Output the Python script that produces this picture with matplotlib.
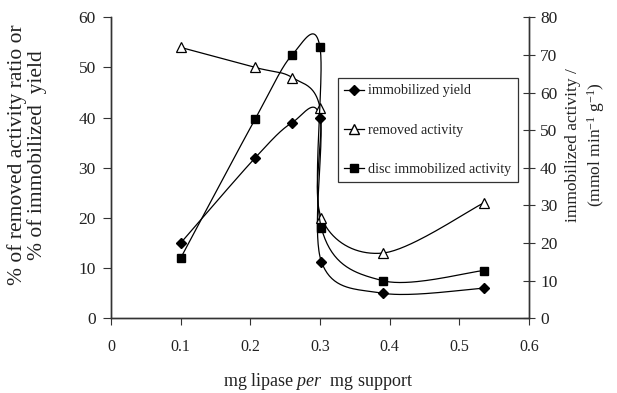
import numpy as np
import matplotlib
matplotlib.use("Agg")
import matplotlib.pyplot as plt
from matplotlib.lines import Line2D

plt.rcParams['font.family'] = ['Liberation Serif', 'DejaVu Serif']
plt.rcParams['mathtext.fontset'] = 'custom'
plt.rcParams['mathtext.rm'] = 'Liberation Serif'
plt.rcParams['mathtext.it'] = 'Liberation Serif:italic'
plt.rcParams['text.color'] = '#222222'
plt.rcParams['xtick.labelcolor'] = '#222222'
plt.rcParams['ytick.labelcolor'] = '#222222'

x = [0.1, 0.207, 0.26, 0.3, 0.302, 0.39, 0.535]
yield_pct = [15, 32, 39, 40, 11.3, 5, 6]
removed_pct = [54, 50, 48, 42, 20, 13, 23]
disc_activity = [16, 53, 70, 72, 24, 10, 12.7]

x_ticks = [0, 0.1, 0.2, 0.3, 0.4, 0.5, 0.6]
left_ticks = [0, 10, 20, 30, 40, 50, 60]
right_ticks = [0, 10, 20, 30, 40, 50, 60, 70, 80]


def smooth(xs, ys, n=40):
    p = np.column_stack([xs, ys]).astype(float)
    m = len(p)
    out = []
    for i in range(m - 1):
        p0 = p[i - 1] if i > 0 else p[i]
        p1 = p[i]
        p2 = p[i + 1]
        p3 = p[i + 2] if i + 2 < m else p[i + 1]
        c1 = p1 + (p2 - p0) / 6.0
        c2 = p2 - (p3 - p1) / 6.0
        t = np.linspace(0, 1, n)[:, None]
        seg = ((1 - t) ** 3) * p1 + 3 * ((1 - t) ** 2) * t * c1 + 3 * (1 - t) * t ** 2 * c2 + t ** 3 * p2
        out.append(seg if i == 0 else seg[1:])
    s = np.vstack(out)
    return s[:, 0], s[:, 1]


W, H = 617, 393
fig = plt.figure(figsize=(6.17, 3.93), dpi=100)
ax = fig.add_axes([111 / W, 1 - 318.3 / H, 418 / W, 301 / H])
ax2 = ax.twinx()

lw = 0.9
sx, sy = smooth(x, yield_pct)
ax.plot(sx, sy, color='black', lw=lw)
ax.plot(x, yield_pct, ls='none', marker='D', ms=5.3, color='black')
sx, sy = smooth(x, removed_pct)
ax.plot(sx, sy, color='black', lw=lw)
ax.plot(x, removed_pct, ls='none', marker='^', ms=6.8, mfc='white', mec='black', mew=0.9)
sx, sy = smooth(x, disc_activity)
ax2.plot(sx, sy, color='black', lw=lw)
ax2.plot(x, disc_activity, ls='none', marker='s', ms=6.2, color='black')

ax.set_xlim(0, 0.6)
ax.set_ylim(0, 60)
ax2.set_ylim(0, 80)
ax.set_xticks(x_ticks)
ax.set_xticklabels([f"{v:g}" for v in x_ticks])
ax.set_yticks(left_ticks)
ax2.set_yticks(right_ticks)

for a in (ax, ax2):
    a.spines['top'].set_visible(False)
    for s in a.spines.values():
        s.set_color('#333333')
        s.set_linewidth(1.0)
ax.tick_params(axis='x', direction='out', length=5, pad=10, labelsize=11.5, color='#333333')
ax.tick_params(axis='y', direction='out', length=6, pad=5, labelsize=12.5, color='#333333')
ax2.tick_params(axis='y', direction='inout', length=8, pad=4, labelsize=12.5, color='#333333')

fig.text(318 / W, 1 - 382 / H, 'mg lipase $\\it{per}$  mg support', fontsize=13,
         ha='center', va='center')
fig.text(27 / W, 1 - 155 / H, '% of removed activity ratio or\n% of immobilized  yield',
         fontsize=15.5, rotation=90, ha='center', va='center', linespacing=1.0,
         multialignment='center')
fig.text(586 / W, 1 - 145 / H, 'immobilized activity /\n(mmol min$^{-1}$ g$^{-1}$)',
         fontsize=12.5, rotation=90, ha='center', va='center', linespacing=1.25,
         multialignment='center')

handles = [
    Line2D([], [], color='black', lw=lw, marker='D', ms=5.3),
    Line2D([], [], color='black', lw=lw, marker='^', ms=6.5, mfc='white', mec='black'),
    Line2D([], [], color='black', lw=lw, marker='s', ms=6.0),
]
labels = ['immobilized yield', 'removed activity', 'disc immobilized activity']
leg = ax2.legend(handles, labels, loc='upper left', bbox_to_anchor=(0.543, 0.798),
                 frameon=True, fancybox=False, edgecolor='black', fontsize=10.2,
                 handlelength=1.4, handletextpad=0.3, labelspacing=1.85, borderpad=0.45,
                 borderaxespad=0)
leg.get_frame().set_linewidth(0.9)

fig.savefig('out.png', dpi=100)
